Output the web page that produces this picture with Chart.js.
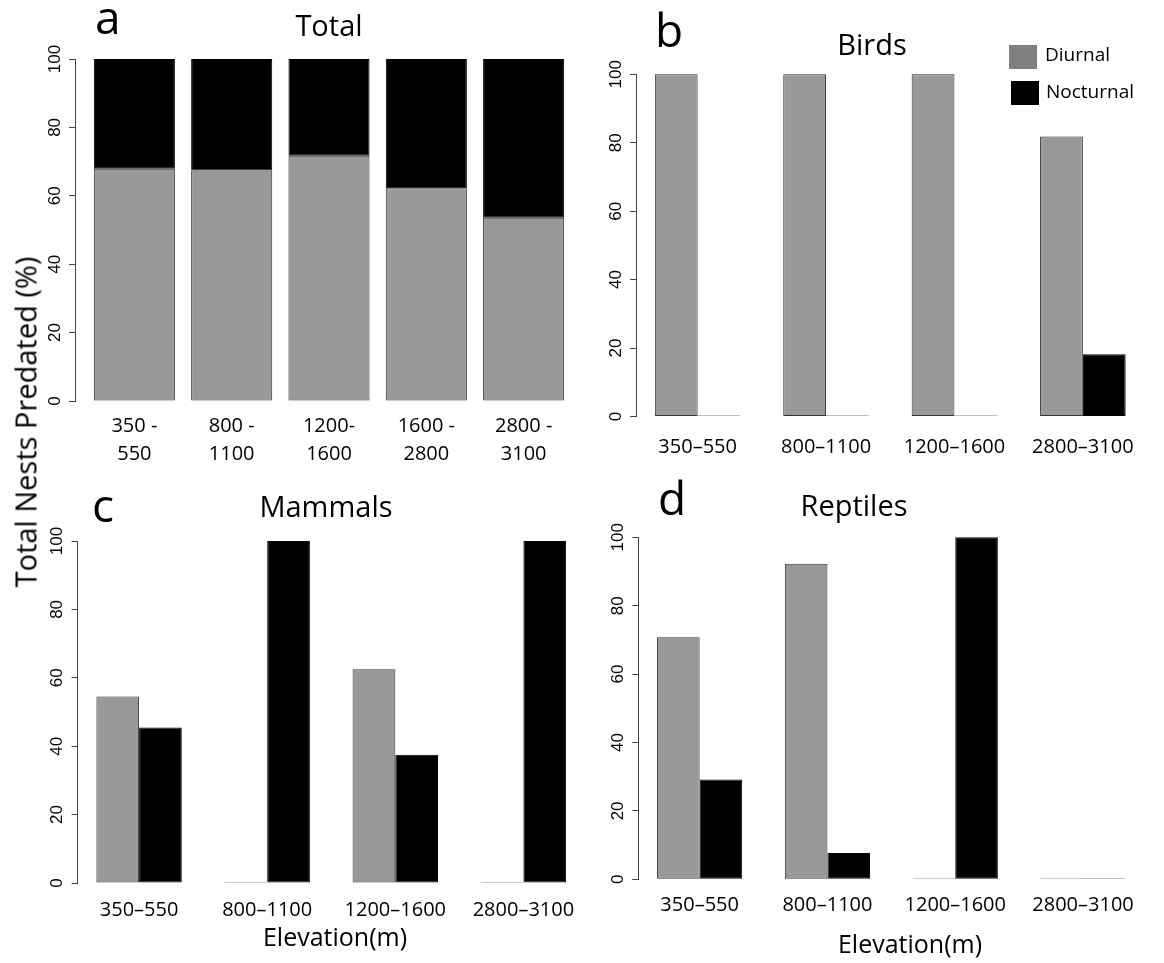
<!DOCTYPE html>
<html>
<head>
<meta charset="utf-8">
<script src="https://cdn.jsdelivr.net/npm/chart.js@4"></script>
<style>
  html, body { margin: 0; padding: 0; background: #fff; }
  #wrap { position: relative; width: 1164px; height: 963px; overflow: hidden; background: #fff; font-family: "Open Sans", sans-serif; color: #000; }
  canvas { position: absolute; }
  .t { position: absolute; white-space: nowrap; line-height: 1; }
  .c { transform: translateX(-50%); }
  .box { position: absolute; }
</style>
</head>
<body>
<div id="wrap">
  <canvas id="ca" width="600" height="480" style="left:0;top:0"></canvas>
  <canvas id="cb" width="604" height="480" style="left:560px;top:0"></canvas>
  <canvas id="cc" width="600" height="483" style="left:0;top:480px"></canvas>
  <canvas id="cd" width="604" height="483" style="left:560px;top:480px"></canvas>

  <div class="t" style="left:95px;top:-7px;font-size:46px;">a</div>
  <div class="t" style="left:655px;top:6px;font-size:46px;">b</div>
  <div class="t" style="left:92px;top:481px;font-size:46px;">c</div>
  <div class="t" style="left:658px;top:474px;font-size:46px;">d</div>

  <div class="t c" style="left:329px;top:10px;font-size:29px;">Total</div>
  <div class="t c" style="left:872px;top:29px;font-size:29px;">Birds</div>
  <div class="t c" style="left:326px;top:491px;font-size:29px;">Mammals</div>
  <div class="t c" style="left:854px;top:490px;font-size:29px;">Reptiles</div>

  <div class="t" style="left:25px;top:422px;font-size:29px;transform:translate(-50%,-50%) rotate(-90deg);">Total Nests Predated (%)</div>
  <div class="t" style="left:335px;top:936px;font-size:25px;transform:translate(-50%,-50%);">Elevation(m)</div>
  <div class="t" style="left:910px;top:943px;font-size:25px;transform:translate(-50%,-50%);">Elevation(m)</div>

  <div class="box" style="left:1009px;top:45px;width:28px;height:24px;background:#808080;"></div>
  <div class="t" style="left:1045px;top:45px;font-size:19px;">Diurnal</div>
  <div class="box" style="left:1011px;top:81px;width:28px;height:24px;background:#000;"></div>
  <div class="t" style="left:1046px;top:82px;font-size:19px;">Nocturnal</div>
</div>
<script>
// ---- data ----
const totalLabels = [["350 -", "550"], ["800 -", "1100"], ["1200-", "1600"], ["1600 -", "2800"], ["2800 -", "3100"]];
const totalDiurnal = [67.9, 67.4, 71.7, 62.2, 53.6];
const totalNocturnal = [32.1, 32.6, 28.3, 37.8, 46.4];

const groupLabels = ["350\u2013550", "800\u20131100", "1200\u20131600", "2800\u20133100"];
const birdsDiurnal = [100, 100, 100, 81.8];
const birdsNocturnal = [0, 0, 0, 18.2];
const mammalsDiurnal = [54.5, 0, 62.5, 0];
const mammalsNocturnal = [45.5, 100, 37.5, 100];
const reptilesDiurnal = [70.8, 92.3, 0, 0];
const reptilesNocturnal = [29.2, 7.7, 100, 0];

const yTicks = [0, 20, 40, 60, 80, 100];
const seriesNames = ["Diurnal", "Nocturnal"];

// ---- helpers ----
const GRAY = "#999999";
const pts = arr => arr.map((v, i) => ({ x: i, y: v }));

function makeChart(id, cfg) {
  const { labels, diurnal, nocturnal, stacked, xMin, xMax, yWidth, xHeight, padTop, padRight, lineH, tickPad } = cfg;
  const barOpts = stacked
    ? { categoryPercentage: 1, barPercentage: 1 / 1.2 }
    : { categoryPercentage: 2 / 3, barPercentage: 1 };
  return new Chart(document.getElementById(id), {
    type: "bar",
    data: {
      datasets: [
        Object.assign({ label: seriesNames[0], data: pts(diurnal), backgroundColor: GRAY, borderColor: "#333", borderWidth: 1, borderSkipped: false, minBarLength: 1, clip: false }, barOpts),
        Object.assign({ label: seriesNames[1], data: pts(nocturnal), backgroundColor: "#000", borderColor: "#000", borderWidth: 1, borderSkipped: false, minBarLength: 1, clip: false }, barOpts)
      ]
    },
    options: {
      responsive: false,
      animation: false,
      devicePixelRatio: 1,
      layout: { padding: { top: padTop, right: padRight, left: 0, bottom: 0 } },
      plugins: { legend: { display: false }, title: { display: false }, tooltip: { enabled: false } },
      scales: {
        x: {
          type: "linear",
          bounds: "data",
          offset: false,
          stacked: !!stacked,
          min: xMin, max: xMax,
          grid: { display: false, drawTicks: false, offset: false },
          border: { display: false },
          afterBuildTicks: s => { s.ticks = labels.map((l, i) => ({ value: i })); },
          ticks: {
            autoSkip: false,
            maxRotation: 0, minRotation: 0,
            padding: tickPad,
            color: "#000",
            font: { family: "Open Sans", size: 20, lineHeight: lineH },
            callback: v => (Number.isInteger(v) && labels[v] !== undefined) ? labels[v] : ""
          },
          afterFit: s => { s.height = xHeight; s.paddingLeft = 0; s.paddingRight = 0; }
        },
        y: {
          stacked: !!stacked,
          min: 0, max: 100,
          afterBuildTicks: s => { s.ticks = yTicks.map(v => ({ value: v })); },
          grid: { display: true, drawOnChartArea: false, drawTicks: true, tickLength: 6, tickColor: "#444", lineWidth: 1 },
          border: { display: true, color: "#444", width: 1 },
          ticks: {
            minRotation: 90, maxRotation: 90,
            crossAlign: "center",
            padding: 0,
            color: "#000",
            font: { family: "Liberation Sans", size: 17 }
          },
          afterFit: s => { s.width = yWidth; s.paddingTop = 0; s.paddingBottom = 0; }
        }
      }
    }
  });
}

makeChart("ca", { labels: totalLabels, diurnal: totalDiurnal, nocturnal: totalNocturnal, stacked: true,
  xMin: -0.61, xMax: 4.61, yWidth: 75, xHeight: 79, padTop: 59, padRight: 17, lineH: 1.4, tickPad: 11 });
makeChart("cb", { labels: groupLabels, diurnal: birdsDiurnal, nocturnal: birdsNocturnal, stacked: false,
  xMin: -0.48, xMax: 3.48, yWidth: 76, xHeight: 63.5, padTop: 74.3, padRight: 19.5, lineH: 1.2, tickPad: 18.5 });
makeChart("cc", { labels: groupLabels, diurnal: mammalsDiurnal, nocturnal: mammalsNocturnal, stacked: false,
  xMin: -0.48, xMax: 3.48, yWidth: 77.6, xHeight: 80, padTop: 61, padRight: 15.1, lineH: 1.2, tickPad: 15 });
makeChart("cd", { labels: groupLabels, diurnal: reptilesDiurnal, nocturnal: reptilesNocturnal, stacked: false,
  xMin: -0.48, xMax: 3.48, yWidth: 78.3, xHeight: 83.7, padTop: 57.3, padRight: 19.6, lineH: 1.2, tickPad: 14 });
</script>
</body>
</html>
